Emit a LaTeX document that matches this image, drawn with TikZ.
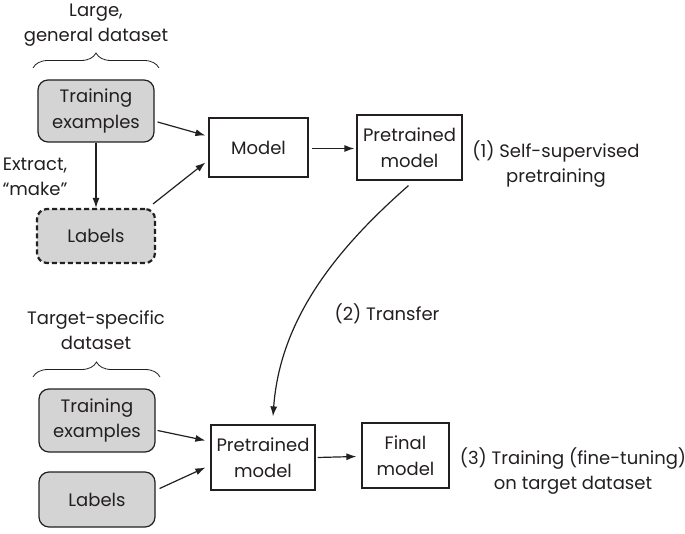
\documentclass[tikz,border=0pt]{standalone}
\usepackage{fontspec}
\setmainfont{Poppins}
\usetikzlibrary{decorations.pathreplacing,arrows.meta,calc}
\definecolor{ink}{HTML}{231F20}
\definecolor{boxgray}{HTML}{D4D4D4}
\begin{document}
\begin{tikzpicture}[x=1pt,y=-1pt,
  font=\fontsize{18}{25.5}\selectfont, text=ink,
  plainbox/.style={draw=ink, line width=1.2pt, align=center, inner sep=0pt, fill=white},
  databox/.style={draw=ink, line width=1.2pt, rounded corners=10pt, fill=boxgray, align=center, inner sep=0pt},
  dashbox/.style={databox, line width=2.2pt, dash pattern=on 5pt off 3pt},
  arr/.style={draw=ink, line width=1.2pt, -{Latex[length=10pt,width=7pt]}},
  lbl/.style={align=center, inner sep=0pt},
  brc/.style={draw=ink, line width=0.8pt, decorate, decoration={brace, amplitude=15pt}}
]
\useasboundingbox (0,0) rectangle (685,534);

% top half
\node[lbl] (t1) at (96,25) {Large,\\general dataset};
\coordinate (b1l) at (33,68);
\coordinate (b1r) at (159,68);
\draw[brc] (b1l) -- (b1r);
\node[databox, minimum width=116pt, minimum height=62pt] (te1) at (96,111) {Training\\examples};
\node[dashbox, minimum width=118pt, minimum height=54pt] (lb1) at (96,236) {Labels};
\node[lbl] (ex) at (35,177) {Extract,\\“make”};
\node[plainbox, minimum width=99pt, minimum height=59pt] (model) at (258.5,147.5) {Model};
\node[plainbox, minimum width=105pt, minimum height=65pt] (pt1) at (409.5,147.5) {Pretrained\\model};
\node[lbl] (s1) at (556,164) {(1) Self-supervised\\pretraining};

\draw[arr] (te1.south) -- (lb1.north);
\draw[arr] ($(te1.east)+(3,11)$) -- ($(model.west)+(-3,-12)$);
\draw[arr] ($(lb1.north east)+(-3,-4)$) -- ($(model.west)+(-3,15)$);
\draw[arr] ($(model.east)+(3,1)$) -- ($(pt1.west)+(-2,1)$);

% bottom half
\node[lbl] (t2) at (96,330) {Target-specific\\dataset};
\coordinate (b2l) at (33,377);
\coordinate (b2r) at (160,377);
\draw[brc] (b2l) -- (b2r);
\node[databox, minimum width=116pt, minimum height=63pt] (te2) at (97,420.5) {Training\\examples};
\node[databox, minimum width=116pt, minimum height=55pt] (lb2) at (97,499.5) {Labels};
\node[plainbox, minimum width=104pt, minimum height=65pt] (pt2) at (263,457.5) {Pretrained\\model};
\node[plainbox, minimum width=87pt, minimum height=65pt] (fin) at (405.5,455.5) {Final\\model};
\node[lbl] (s3) at (573,471) {(3) Training (fine-tuning)\\on target dataset};

\draw[arr] ($(te2.east)+(2,10)$) -- ($(pt2.west)+(-5,-17)$);
\draw[arr] ($(lb2.east)+(4,-11)$) -- ($(pt2.west)+(-5,10)$);
\draw[arr] ($(pt2.east)+(2,0)$) -- ($(fin.west)+(-5,1)$);

% transfer
\draw[arr] ($(pt1.south)+(-1,5)$) .. controls (335,250) and (280,320) .. ($(pt2.north)+(10,-8)$);
\node[lbl] (s2) at (387,314) {(2) Transfer};
\end{tikzpicture}
\end{document}
